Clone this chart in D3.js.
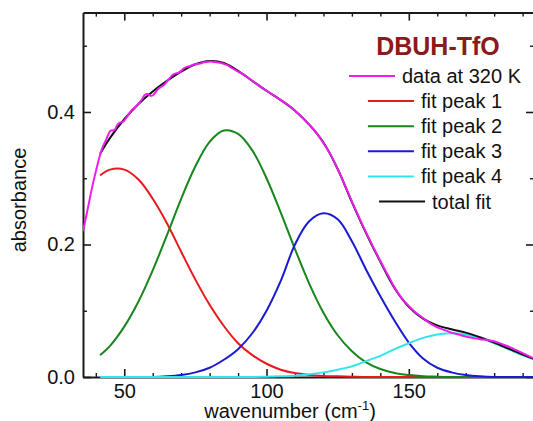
<!DOCTYPE html>
<html>
<head>
<meta charset="utf-8">
<script src="https://cdn.jsdelivr.net/npm/d3@7"></script>
<style>
  body { margin: 0; background: #fff; }
  svg { display: block; }
  text { font-family: "Liberation Sans", Arial, sans-serif; }
</style>
</head>
<body>
<svg id="chart" width="533" height="421"></svg>
<script>
// Wavenumber grid of the fitted components (cm^-1)
const fitX = [41.5, 45, 50, 55, 60, 65, 70, 75, 80, 85, 90, 95, 100, 105, 110, 115, 120, 125, 130,
              135, 140, 145, 150, 155, 160, 165, 170, 175, 180, 185, 190, 194];

const peak1 = [0.304, 0.313, 0.313, 0.298, 0.269, 0.232, 0.189, 0.147, 0.109, 0.077, 0.051, 0.033, 0.020,
               0.011, 0.006, 0.003, 0.0015, 0.001, 0.0005, 0, 0, 0, 0, 0, 0, 0, 0, 0, 0, 0, 0, 0];
const peak2 = [0.033, 0.047, 0.076, 0.114, 0.161, 0.214, 0.269, 0.318, 0.355, 0.372, 0.367, 0.342, 0.300,
               0.248, 0.193, 0.141, 0.097, 0.063, 0.039, 0.022, 0.012, 0.006, 0.003, 0.0013, 0.0005, 0, 0, 0, 0, 0, 0, 0];
const peak3 = [0, 0, 0, 0, 0, 0.001, 0.003, 0.007, 0.014, 0.026, 0.042, 0.066, 0.100, 0.145, 0.200, 0.235,
               0.247, 0.238, 0.205, 0.162, 0.122, 0.085, 0.052, 0.028, 0.014, 0.007, 0.003, 0.001, 0, 0, 0, 0];
const peak4 = [0, 0, 0, 0, 0, 0, 0, 0, 0, 0, 0, 0, 0.0005, 0.001, 0.002, 0.004, 0.007, 0.011, 0.016, 0.024,
               0.032, 0.042, 0.051, 0.059, 0.064, 0.066, 0.064, 0.059, 0.051, 0.042, 0.033, 0.027];
const totalFit = [0.337, 0.361, 0.389, 0.412, 0.431, 0.447, 0.461, 0.472, 0.477, 0.474, 0.462, 0.447, 0.432,
                  0.418, 0.402, 0.381, 0.354, 0.314, 0.264, 0.217, 0.174, 0.134, 0.106, 0.088, 0.078, 0.072,
                  0.067, 0.060, 0.052, 0.043, 0.034, 0.027];

// Measured spectrum at 320 K
const dataX = [35.5, 36.5, 37.5, 38.5, 39.5, 40.5, 41.5, 42.5, 43.5, 44.5, 45.2, 46.0, 46.8, 47.6, 48.5, 49.5,
               50.5, 51.5, 52.5, 53.5, 54.5, 55.5, 56.5, 57.3, 58.2, 59.0, 60.0, 61.0, 62.0, 63.0, 64.0, 65.0,
               66.0, 67.0, 68.0, 69.0, 70.0, 71.0, 72.0, 73.0, 74.0, 75.0, 76.5, 78.0, 79.5, 81.0, 82.5, 84.0,
               86.0, 88.0, 90, 92.5, 95, 97.5, 100, 102.5, 105, 107.5, 110, 112.5, 115, 117.5, 120, 122.5,
               125, 127.5, 130, 132.5, 135, 137.5, 140, 142.5, 145, 147.5, 150, 152.5, 155, 157.5, 160, 162.5,
               165, 167.5, 170, 172.5, 175, 177.5, 180, 182.5, 185, 187.5, 190, 192, 194];
const dataY = [0.220, 0.240, 0.261, 0.282, 0.301, 0.319, 0.335, 0.348, 0.357, 0.367, 0.372, 0.372, 0.374, 0.381,
               0.384, 0.385, 0.390, 0.396, 0.402, 0.406, 0.410, 0.415, 0.421, 0.426, 0.427, 0.425, 0.425, 0.430,
               0.435, 0.438, 0.441, 0.446, 0.451, 0.456, 0.458, 0.459, 0.462, 0.466, 0.468, 0.469, 0.471, 0.472,
               0.473, 0.475, 0.476, 0.476, 0.475, 0.474, 0.471, 0.466, 0.461, 0.455, 0.447, 0.439, 0.432, 0.425,
               0.418, 0.411, 0.402, 0.392, 0.381, 0.369, 0.353, 0.336, 0.314, 0.290, 0.265, 0.241, 0.218, 0.196,
               0.175, 0.155, 0.135, 0.119, 0.107, 0.097, 0.089, 0.081, 0.075, 0.071, 0.067, 0.064, 0.061, 0.059,
               0.057, 0.056, 0.054, 0.050, 0.046, 0.041, 0.036, 0.032, 0.028];

const xMajor = [50, 100, 150];
const xMinor = [40, 60, 70, 80, 90, 110, 120, 130, 140, 160, 170, 180, 190];
const yMajor = [0.0, 0.2, 0.4];
const yMinor = [0.1, 0.3, 0.5];

const legendTitle = "DBUH-TfO";
const legendLabels = ["data at 320 K", "fit peak 1", "fit peak 2", "fit peak 3", "fit peak 4", "total fit"];
const colors = {
  data: "#ee1cee", p1: "#e8191e", p2: "#17861c", p3: "#1a1ad2", p4: "#30e6ee", total: "#111111"
};

const svg = d3.select("#chart");
const x = d3.scaleLinear().domain([35.5, 194]).range([83, 534]);
const y = d3.scaleLinear().domain([0, 0.55]).range([377, 12.6]);
const axisColor = "#1a1a1a";

function styleAxis(g) {
  g.select(".domain").attr("stroke", axisColor).attr("stroke-width", 2);
  g.selectAll(".tick line").attr("stroke", axisColor).attr("stroke-width", 1.6);
  g.selectAll(".tick text").attr("font-size", 20).attr("fill", "#111")
    .style("font-family", "'Liberation Sans', Arial, sans-serif");
}
function minor(g) {
  g.select(".domain").remove();
  g.selectAll(".tick line").attr("stroke", axisColor).attr("stroke-width", 1.4);
}

// Frame and ticks (all ticks point inward)
svg.append("g").attr("transform", `translate(0,${y(0)})`)
  .call(d3.axisBottom(x).tickValues(xMajor).tickSize(-8).tickSizeOuter(0).tickPadding(7).tickFormat(d3.format("d")))
  .call(styleAxis);
svg.append("g").attr("transform", `translate(0,${y(0)})`)
  .call(d3.axisBottom(x).tickValues(xMinor).tickSize(-4).tickFormat("")).call(minor);
svg.append("g").attr("transform", `translate(0,${y(0.55)})`)
  .call(d3.axisTop(x).tickValues(xMajor).tickSize(-8).tickSizeOuter(0).tickFormat(""))
  .call(styleAxis);
svg.append("g").attr("transform", `translate(0,${y(0.55)})`)
  .call(d3.axisTop(x).tickValues(xMinor).tickSize(-4).tickFormat("")).call(minor);
svg.append("g").attr("transform", `translate(${x(35.5)},0)`)
  .call(d3.axisLeft(y).tickValues(yMajor).tickSize(-8).tickSizeOuter(0).tickPadding(8).tickFormat(d3.format(".1f")))
  .call(styleAxis);
svg.append("g").attr("transform", `translate(${x(35.5)},0)`)
  .call(d3.axisLeft(y).tickValues(yMinor).tickSize(-4).tickFormat("")).call(minor);
svg.append("g").attr("transform", `translate(${x(194)},0)`)
  .call(d3.axisRight(y).tickValues(yMajor).tickSize(-8).tickSizeOuter(0).tickFormat(""))
  .call(styleAxis);
svg.append("g").attr("transform", `translate(${x(194)},0)`)
  .call(d3.axisRight(y).tickValues(yMinor).tickSize(-4).tickFormat("")).call(minor);

// Axis titles
const xt = svg.append("text").attr("x", 290).attr("y", 418).attr("text-anchor", "middle")
  .attr("font-size", 20).attr("fill", "#111");
xt.append("tspan").text("wavenumber (cm");
xt.append("tspan").attr("font-size", 13).attr("dy", -8).text("-1");
xt.append("tspan").attr("dy", 8).text(")");
svg.append("text").attr("transform", "translate(26,200) rotate(-90)").attr("text-anchor", "middle")
  .attr("font-size", 20).attr("fill", "#111").text("absorbance");

// Curves
svg.append("clipPath").attr("id", "plot-clip").append("rect")
  .attr("x", x(35.5)).attr("y", y(0.55)).attr("width", x(194) - x(35.5)).attr("height", y(0) - y(0.55) + 2);
const plot = svg.append("g").attr("clip-path", "url(#plot-clip)");

const line = d3.line().x(d => x(d[0])).y(d => y(d[1])).curve(d3.curveCatmullRom.alpha(0.5));
const series = [
  { v: peak1, c: colors.p1 },
  { v: peak2, c: colors.p2 },
  { v: peak3, c: colors.p3 },
  { v: peak4, c: colors.p4 },
  { v: totalFit, c: colors.total }
];
series.forEach(s => {
  plot.append("path").datum(fitX.map((xv, i) => [xv, s.v[i]]))
    .attr("d", line).attr("fill", "none").attr("stroke", s.c).attr("stroke-width", 2);
});
plot.append("path").datum(dataX.map((xv, i) => [xv, dataY[i]]))
  .attr("d", line).attr("fill", "none").attr("stroke", colors.data).attr("stroke-width", 2);

// Legend
svg.append("text").attr("x", 438).attr("y", 55).attr("text-anchor", "middle")
  .attr("font-size", 25).attr("font-weight", "bold").attr("fill", "#8b1a1a").text(legendTitle);
const legendColors = [colors.data, colors.p1, colors.p2, colors.p3, colors.p4, colors.total];
legendLabels.forEach((lab, i) => {
  const ly = 76 + i * 25.1;
  const g = svg.append("g");
  const t = g.append("text").attr("y", ly + 7).attr("font-size", 20).attr("fill", "#111").text(lab);
  const w = t.node().getComputedTextLength();
  const total = 46 + 7 + w;
  const x0 = 435 - total / 2;
  g.append("line").attr("x1", x0).attr("x2", x0 + 46).attr("y1", ly).attr("y2", ly)
    .attr("stroke", legendColors[i]).attr("stroke-width", 2);
  t.attr("x", x0 + 53);
});
</script>
</body>
</html>
